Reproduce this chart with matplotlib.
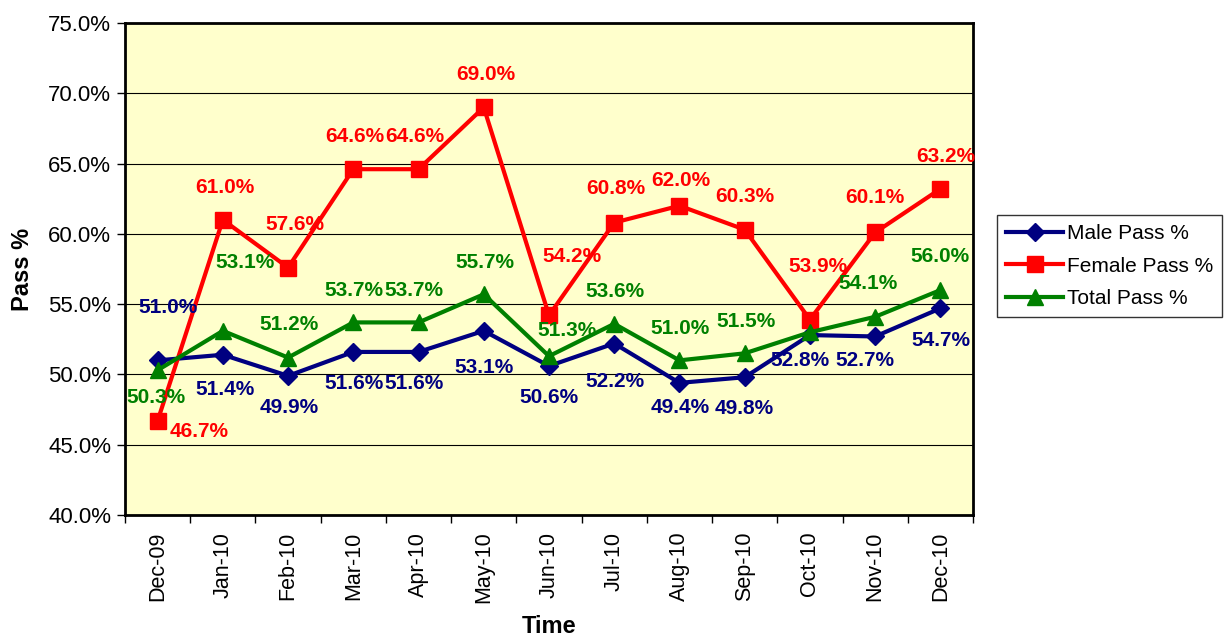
import matplotlib.pyplot as plt
import numpy as np

plt.rcParams['font.family'] = ['Liberation Sans', 'DejaVu Sans']

months = ['Dec-09', 'Jan-10', 'Feb-10', 'Mar-10', 'Apr-10', 'May-10', 'Jun-10',
          'Jul-10', 'Aug-10', 'Sep-10', 'Oct-10', 'Nov-10', 'Dec-10']
male = [51.0, 51.4, 49.9, 51.6, 51.6, 53.1, 50.6, 52.2, 49.4, 49.8, 52.8, 52.7, 54.7]
female = [46.7, 61.0, 57.6, 64.6, 64.6, 69.0, 54.2, 60.8, 62.0, 60.3, 53.9, 60.1, 63.2]
total = [50.3, 53.1, 51.2, 53.7, 53.7, 55.7, 51.3, 53.6, 51.0, 51.5, 53.0, 54.1, 56.0]

# label offsets in pixels (dx, dy up), None = no label shown
male_off = [(10, 53), (2, -35), (1, -32), (1, -32), (-5, -32), (0, -37), (0, -32),
            (1, -38), (1, -25), (-1, -31), (-10, -25), (-10, -24), (1, -32)]
female_off = [(42, -11), (2, 32), (7, 43), (2, 33), (-4, 33), (2, 33), (23, 59),
              (2, 34), (1, 25), (0, 33), (8, 53), (0, 35), (5, 32)]
total_off = [(-2, -27), (22, 68), (1, 33), (1, 32), (-5, 32), (1, 32), (18, 26),
             (1, 32), (1, 32), (1, 32), None, (-7, 33), (0, 34)]

fig = plt.figure(figsize=(12.27, 6.37), dpi=100)
ax = fig.add_axes([125 / 1227, 1 - 515 / 637, 848 / 1227, 492 / 637])
ax.set_facecolor('#FFFFCC')

x = np.arange(len(months))
series = [
    ('Male Pass %', male, '#000080', 'D', 9, male_off),
    ('Female Pass %', female, '#FF0000', 's', 11, female_off),
    ('Total Pass %', total, '#008000', '^', 11, total_off),
]
for name, vals, col, mk, ms, offs in series:
    ax.plot(x, vals, color=col, lw=3, marker=mk, ms=ms, label=name, zorder=3)
    for xi, v, off in zip(x, vals, offs):
        if off is None:
            continue
        ax.annotate(f'{v:.1f}%', (xi, v), xytext=off, textcoords='offset pixels',
                    ha='center', va='center', color=col, fontsize=15,
                    fontweight='bold', zorder=4)

ax.set_xlim(-0.5, len(months) - 0.5)
ax.set_ylim(40, 75)
ax.set_yticks(np.arange(40, 76, 5))
ax.set_yticklabels([f'{t:.1f}%' for t in np.arange(40, 76, 5)], fontsize=16)
ax.yaxis.grid(True, color='black', lw=0.8)
ax.set_axisbelow(True)
ax.set_xticks(x)
ax.set_xticklabels(months, rotation=90, fontsize=15.5)
ax.set_xticks(np.arange(-0.5, len(months), 1), minor=True)
ax.tick_params(axis='x', which='major', length=0, pad=12)
ax.tick_params(axis='x', which='minor', length=6, width=1)
ax.tick_params(axis='y', length=6, width=1, pad=4)
for sp in ax.spines.values():
    sp.set_linewidth(2)
    sp.set_color('black')

ax.set_xlabel('Time', fontsize=17, fontweight='bold', labelpad=8)
ax.set_ylabel('Pass %', fontsize=17, fontweight='bold', labelpad=10)

leg = fig.legend(loc='center left', bbox_to_anchor=(997 / 1227, 1 - 266 / 637),
                 fontsize=15, frameon=True, fancybox=False, handlelength=2.7,
                 borderpad=0.45, labelspacing=0.65, handletextpad=0.2,
                 borderaxespad=0)
leg.get_frame().set_edgecolor('black')
leg.get_frame().set_linewidth(1)

fig.savefig('out.png', dpi=100)
